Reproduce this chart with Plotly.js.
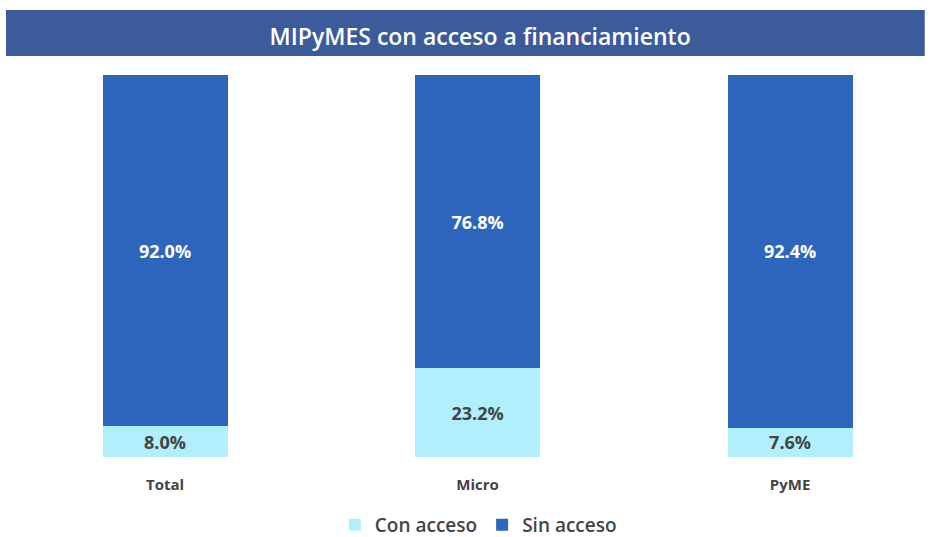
<!DOCTYPE html>
<html>
<head>
<meta charset="utf-8">
<script src="https://cdn.plot.ly/plotly-3.0.1.min.js"></script>
<style>html,body{margin:0;padding:0;background:#fff;}#chart{width:936px;height:537px;}</style>
</head>
<body>
<div id="chart"></div>
<script>
var categories = ["Total", "Micro", "PyME"];
var conAcceso = [8.0, 23.2, 7.6];
var sinAcceso = [92.0, 76.8, 92.4];
var seriesNames = ["Con acceso", "Sin acceso"];
var chartTitle = "MIPyMES con acceso a financiamiento";

function fmt(v){ return v.toFixed(1) + "%"; }

var traces = [
  {
    type: "bar", name: seriesNames[0], x: categories, y: conAcceso,
    marker: {color: "#b0effb"},
    text: conAcceso.map(fmt), textposition: "inside", insidetextanchor: "middle",
    textangle: 0, constraintext: "none",
    textfont: {family: "Open Sans", size: 18, color: "#444444", weight: 700},
    hoverinfo: "skip"
  },
  {
    type: "bar", name: seriesNames[1], x: categories, y: sinAcceso,
    marker: {color: "#2f66bd"},
    text: sinAcceso.map(fmt), textposition: "inside", insidetextanchor: "middle",
    textangle: 0, constraintext: "none",
    textfont: {family: "Open Sans", size: 18, color: "#ffffff", weight: 700},
    hoverinfo: "skip"
  }
];

var layout = {
  width: 936, height: 537,
  margin: {l: 0, r: 0, t: 75, b: 80, autoexpand: false},
  paper_bgcolor: "#ffffff", plot_bgcolor: "#ffffff",
  barmode: "stack", bargap: 0.6,
  showlegend: true,
  legend: {orientation: "h", x: 0.511, xanchor: "center", y: -0.178, yanchor: "middle",
           font: {family: "Open Sans", size: 19, color: "#444444", weight: 600}, itemwidth: 30, traceorder: "normal"},
  title: {text: chartTitle, x: 0.513, xanchor: "center", y: 0.932, yanchor: "middle",
          font: {family: "Open Sans", size: 23, color: "#ffffff", weight: 600}},
  xaxis: {range: [-0.528, 2.467], showgrid: false, zeroline: false, showline: false,
          ticks: "", ticklabelstandoff: 17,
          tickfont: {family: "Open Sans", size: 15, color: "#444444", weight: 700}},
  yaxis: {range: [0, 100], visible: false, fixedrange: true},
  shapes: [
    {type: "rect", xref: "paper", yref: "paper", x0: 0.0064, x1: 0.988, y0: 1.05, y1: 1.17,
     fillcolor: "#3b5b9b", line: {width: 0}, layer: "below"}
  ]
};

Plotly.newPlot("chart", traces, layout, {displayModeBar: false, staticPlot: true});
</script>
</body>
</html>
